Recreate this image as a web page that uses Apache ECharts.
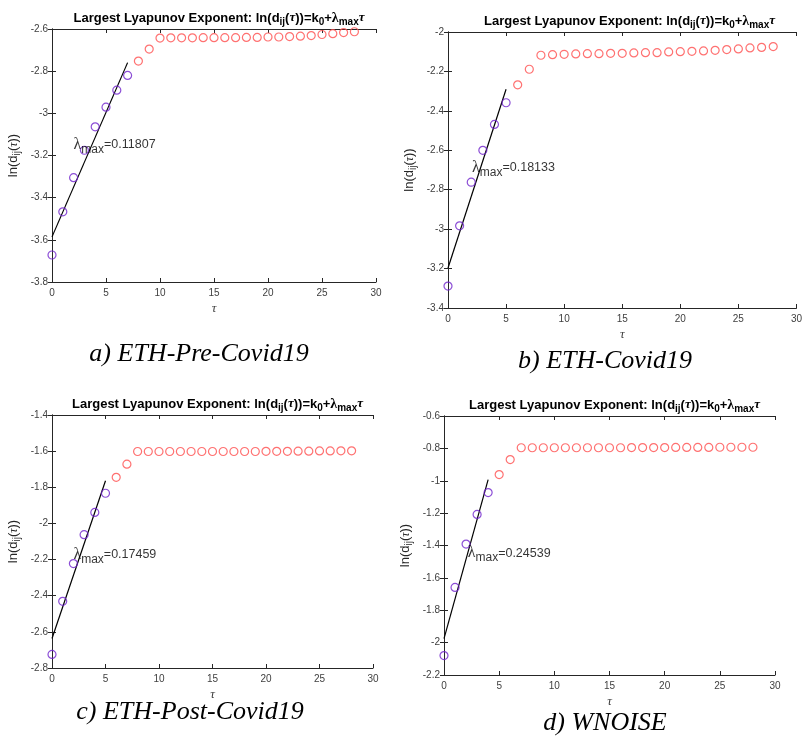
<!DOCTYPE html>
<html>
<head>
<meta charset="utf-8">
<script src="https://cdn.jsdelivr.net/npm/echarts@6/dist/echarts.min.js"></script>
<style>
  html, body { margin: 0; padding: 0; background: #fff; }
  #main { width: 805px; height: 739px; }
</style>
</head>
<body>
<div id="main"></div>
<script>
// tau axis (lag)
const tau = [0, 1, 2, 3, 4, 5, 6, 7, 8, 9, 10, 11, 12, 13, 14, 15, 16, 17, 18, 19, 20, 21, 22, 23, 24, 25, 26, 27, 28]

// ln(d_ij(tau))
const preCovid = [-3.672, -3.467, -3.305, -3.175, -3.064, -2.971, -2.890, -2.820, -2.752, -2.695, -2.643, -2.642, -2.642, -2.642, -2.641, -2.641, -2.641, -2.641, -2.640, -2.640, -2.638, -2.638, -2.636, -2.634, -2.631, -2.626, -2.622, -2.617, -2.613]
const covid = [-3.289, -2.983, -2.762, -2.600, -2.469, -2.359, -2.268, -2.189, -2.118, -2.115, -2.113, -2.111, -2.110, -2.110, -2.108, -2.108, -2.106, -2.105, -2.105, -2.101, -2.100, -2.098, -2.096, -2.093, -2.089, -2.086, -2.081, -2.078, -2.074]
const postCovid = [-2.725, -2.431, -2.222, -2.062, -1.939, -1.833, -1.745, -1.672, -1.602, -1.602, -1.602, -1.602, -1.602, -1.602, -1.602, -1.602, -1.602, -1.602, -1.602, -1.602, -1.601, -1.601, -1.601, -1.600, -1.600, -1.599, -1.599, -1.598, -1.598]
const wnoise = [-2.080, -1.659, -1.391, -1.208, -1.073, -0.962, -0.869, -0.796, -0.796, -0.796, -0.796, -0.796, -0.796, -0.796, -0.796, -0.796, -0.796, -0.795, -0.795, -0.795, -0.795, -0.794, -0.794, -0.794, -0.794, -0.793, -0.793, -0.793, -0.793]

// linear fit: ln(d) = k0 + lambda * tau, over the first fitLen points
const lambdaMax = [0.11807, 0.18133, 0.17459, 0.24539]
const k0 = [-3.586, -3.197, -2.637, -1.975]
const fitLen = [8, 6, 6, 5]
const lambdaText = ['0.11807', '0.18133', '0.17459', '0.24539']
const labelAt = [[2.0, -3.15], [2.07, -2.69], [2.0, -2.174], [2.15, -1.447]]

const yRanges = [[-3.8, -2.6], [-3.4, -2], [-2.8, -1.4], [-2.2, -0.6]]
const captions = ['a) ETH-Pre-Covid19', 'b) ETH-Covid19', 'c) ETH-Post-Covid19', 'd) WNOISE']

const panels = [preCovid, covid, postCovid, wnoise]

// plot boxes
const boxes = [
  { left: 52, top: 29, width: 324, height: 253 },
  { left: 448, top: 32, width: 353, height: 276 },
  { left: 52, top: 415, width: 321, height: 253 },
  { left: 444, top: 416, width: 331, height: 259 },
]
const captionPos = [[199, 354], [605, 361], [190, 712], [605, 723]]

const AX = '#262626'
const FONT = '"Liberation Sans", Arial, sans-serif'
const purple = '#6f22cc'
const red = '#ff4d4d'

const subRich = {
  n: { fontSize: 13, color: AX, fontFamily: FONT, lineHeight: 17 },
  s: { fontSize: 10, color: AX, fontFamily: FONT, lineHeight: 10, padding: [7, 0, 0, 0] },
  t: { fontSize: 12, color: AX, fontFamily: '"Liberation Serif", serif', fontStyle: 'italic', lineHeight: 17 },
}

const titleRich = {
  b: { fontSize: 13, fontWeight: 'bold', color: '#000', fontFamily: FONT, lineHeight: 18 },
  bs: { fontSize: 10, fontWeight: 'bold', color: '#000', fontFamily: FONT, lineHeight: 10, padding: [8, 0, 0, 0] },
  t: { fontSize: 13, color: '#000', fontFamily: '"Liberation Serif", serif', fontStyle: 'italic', lineHeight: 18 },
  l: { fontSize: 14, color: '#000', fontFamily: '"Liberation Serif", serif', lineHeight: 18 },
}

const labelRich = {
  l: { fontSize: 16, color: '#000', fontFamily: '"Liberation Serif", serif', lineHeight: 18 },
  s: { fontSize: 12, color: '#000', fontFamily: FONT, lineHeight: 12, padding: [9, 0, 0, 0] },
  n: { fontSize: 12.5, color: '#000', fontFamily: FONT, lineHeight: 18 },
}

const fmt = v => String(parseFloat(v.toFixed(1)))

const grid = []
const xAxis = []
const yAxis = []
const series = []
const title = []
const graphic = []

panels.forEach((vals, i) => {
  const b = boxes[i]
  grid.push({ left: b.left, top: b.top, width: b.width, height: b.height })

  const tickStyle = { show: true, inside: true, length: 4, lineStyle: { color: AX } }
  const lineStyle = { show: true, lineStyle: { color: AX, width: 1 } }

  xAxis.push({
    gridIndex: i, type: 'value', min: 0, max: 30, interval: 5, position: 'bottom',
    axisLine: lineStyle, axisTick: tickStyle, splitLine: { show: false },
    axisLabel: { color: '#404040', fontSize: 10, fontFamily: FONT, margin: 6 },
    name: 'τ', nameLocation: 'middle', nameGap: 20,
    nameTextStyle: { fontFamily: '"Liberation Serif", serif', fontStyle: 'italic', fontSize: 13, color: '#404040' },
  })
  xAxis.push({
    gridIndex: i, type: 'value', min: 0, max: 30, interval: 5, position: 'top',
    axisLine: lineStyle, axisTick: tickStyle, splitLine: { show: false }, axisLabel: { show: false },
  })
  yAxis.push({
    gridIndex: i, type: 'value', min: yRanges[i][0], max: yRanges[i][1], interval: 0.2, position: 'left',
    axisLine: lineStyle, axisTick: tickStyle, splitLine: { show: false },
    axisLabel: { color: '#404040', fontSize: 10, fontFamily: FONT, margin: 4, formatter: fmt },
    name: '{n|ln(d}{s|ij}{n|(}{t|τ}{n|))}', nameLocation: 'middle', nameGap: 30, nameRotate: 90,
    nameTextStyle: { rich: subRich },
  })
  yAxis.push({
    gridIndex: i, type: 'value', min: yRanges[i][0], max: yRanges[i][1], interval: 0.2, position: 'right',
    axisLine: lineStyle, axisTick: tickStyle, splitLine: { show: false }, axisLabel: { show: false },
  })

  const pts = tau.map((t, j) => [t, vals[j]])
  const n = fitLen[i]
  const ax = { xAxisIndex: i * 2, yAxisIndex: i * 2 }

  series.push({
    ...ax, type: 'scatter', data: pts.slice(0, n), symbol: 'circle', symbolSize: 8,
    itemStyle: { color: 'rgba(255,255,255,0)', borderColor: purple, borderWidth: 1.2 }, z: 3,
  })
  series.push({
    ...ax, type: 'scatter', data: pts.slice(n), symbol: 'circle', symbolSize: 8,
    itemStyle: { color: 'rgba(255,255,255,0)', borderColor: red, borderWidth: 1.2 }, z: 3,
  })
  const xe = tau[n - 1]
  series.push({
    ...ax, type: 'line', data: [[0, k0[i]], [xe, k0[i] + lambdaMax[i] * xe]],
    symbol: 'none', lineStyle: { color: '#000', width: 1.2 }, z: 2,
  })
  series.push({
    ...ax, type: 'scatter', data: [labelAt[i]], symbolSize: 0, z: 4,
    label: {
      show: true, position: 'right', distance: 0,
      formatter: '{l|λ}{s|max}{n|=' + lambdaText[i] + '}', rich: labelRich,
    },
  })

  title.push({
    text: '{b|Largest Lyapunov Exponent: ln(d}{bs|ij}{b|(}{t|τ}{b|))=k}{bs|0}{b|+}{l|λ}{bs|max}{t|τ}',
    left: b.left + b.width / 2, top: b.top - 25, textAlign: 'center',
    textStyle: { rich: titleRich },
  })

  graphic.push({
    type: 'text', x: captionPos[i][0], y: captionPos[i][1],
    style: {
      text: captions[i], fontSize: 26, fontStyle: 'italic', fontFamily: '"Liberation Serif", "Times New Roman", serif',
      fill: '#000', align: 'center', verticalAlign: 'middle',
    },
  })
})

const chart = echarts.init(document.getElementById('main'))
chart.setOption({
  animation: false,
  backgroundColor: '#fff',
  title, grid, xAxis, yAxis, series, graphic,
})
</script>
</body>
</html>
